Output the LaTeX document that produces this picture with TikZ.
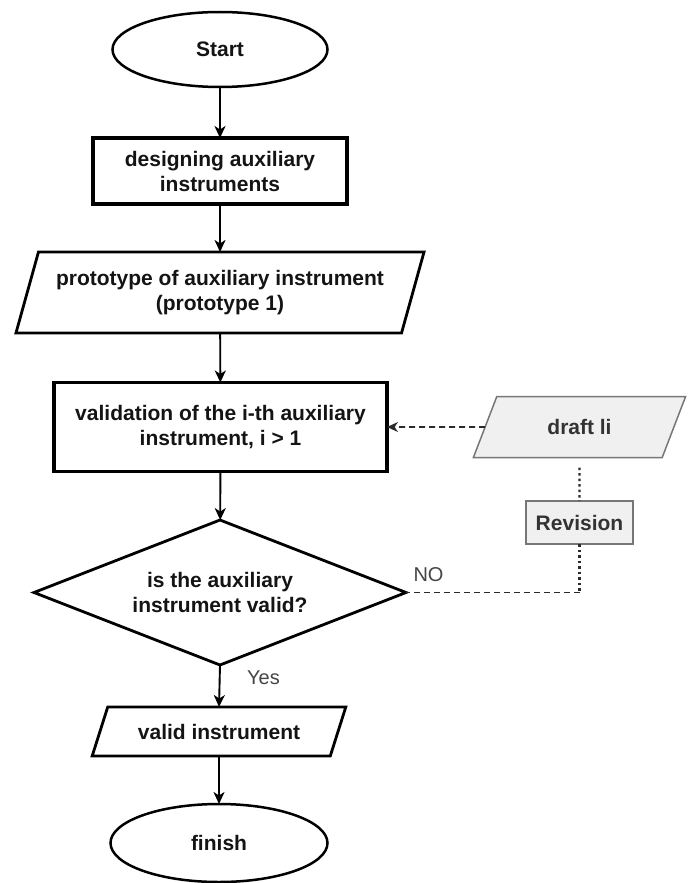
\documentclass[tikz,border=0pt]{standalone}
\usepackage{fontspec}
\setmainfont{Liberation Sans}
\usetikzlibrary{shapes.geometric,arrows.meta}

\definecolor{boxfill}{HTML}{F0F0F0}
\definecolor{boxline}{HTML}{777777}
\definecolor{labelgray}{HTML}{444444}
\definecolor{linkgray}{HTML}{2A2A2A}

\tikzset{
  base/.style={draw=black, inner sep=0pt, outer sep=0pt, align=center,
    font=\fontsize{21}{25}\selectfont\bfseries, text=black!92},
  terminal/.style={base, ellipse, line width=2.5pt},
  process/.style={base, rectangle, line width=3.2pt},
  io/.style={base, trapezium, trapezium stretches=true, line width=2.8pt},
  decision/.style={base, diamond, line width=2.8pt},
  aside/.style={base, draw=boxline, fill=boxfill, line width=1.5pt, text=black!80},
  flow/.style={line width=1.9pt, -{Stealth[length=12pt,width=11pt,inset=3.5pt]}},
  feedback/.style={line width=1.8pt, draw=linkgray, dash pattern=on 6pt off 4pt},
  revline/.style={line width=2.4pt, draw=linkgray, dash pattern=on 2.5pt off 3pt},
  branch/.style={font=\fontsize{20}{24}\selectfont, text=labelgray}
}

\begin{document}
\begin{tikzpicture}[x=1pt, y=-1pt]
  \useasboundingbox (0,0) rectangle (693,883);

  % main flow
  \node[terminal, minimum width=215pt, minimum height=75pt] (start) at (220,49.5) {Start};
  \node[process, minimum width=254pt, minimum height=66pt] (design) at (220,171)
    {designing auxiliary\\instruments};
  \node[io, minimum width=410pt, minimum height=81pt,
        trapezium left angle=65.5, trapezium right angle=114.5] (proto) at (220,292.5)
    {prototype of auxiliary instrument\\(prototype 1)};
  \node[process, minimum width=333pt, minimum height=89pt] (valid) at (220.5,427)
    {validation of the i-th auxiliary\\instrument, i > 1};
  \node[decision, minimum width=372pt, minimum height=145pt, aspect=2.56] (check) at (220,592.5)
    {is the auxiliary\\instrument valid?};
  \node[io, minimum width=254pt, minimum height=49pt,
        trapezium left angle=53.7, trapezium right angle=126.3] (result) at (219,731.5)
    {valid instrument};
  \node[terminal, minimum width=217pt, minimum height=78pt] (finish) at (219,843) {finish};

  % revision loop
  \node[aside, trapezium, trapezium stretches=true, minimum width=213pt, minimum height=61pt,
        trapezium left angle=59.5, trapezium right angle=120.5] (draft) at (579.5,427) {draft li};
  \node[aside, rectangle, minimum width=107pt, minimum height=43pt] (revision) at (579.5,522.5) {Revision};
  \coordinate (turn) at (579.5,592.5);

  \draw[flow] (start) -- (design);
  \draw[flow] (design) -- (proto);
  \draw[flow] (proto) -- (valid);
  \draw[flow] (valid) -- (check);
  \draw[flow] (check.south) -- (result.north);
  \draw[flow] (result) -- (finish);

  \draw[feedback, -{Stealth[length=11pt,width=10pt,inset=3.5pt]}] (draft.west) -- (valid.east);
  \draw[revline, shorten <=10pt] (draft.south) -- (revision.north);
  \draw[revline] (revision.south) -- (turn);
  \draw[feedback] (turn) -- (check.east);

  \node[branch] (yes) at (263.5,678) {Yes};
  \node[branch] (no) at (428.5,575) {NO};
\end{tikzpicture}
\end{document}
